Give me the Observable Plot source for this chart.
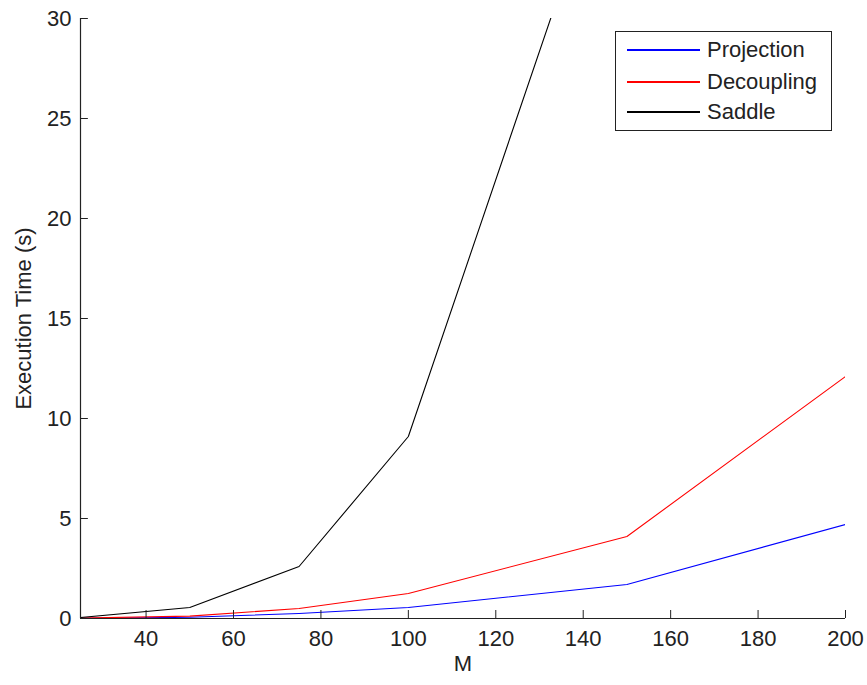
<!DOCTYPE html>
<html>
<head>
<meta charset="utf-8">
<script src="https://cdn.jsdelivr.net/npm/d3@7"></script>
<script src="https://cdn.jsdelivr.net/npm/@observablehq/plot@0.6"></script>
<style>
  html, body { margin: 0; padding: 0; background: #fff; }
  #wrap { position: relative; width: 867px; height: 685px; font-family: "Liberation Sans", Arial, Helvetica, sans-serif; }
  #legend { position: absolute; left: 615px; top: 31px; width: 215px; height: 98px; border: 1px solid #222; background: #fff; box-sizing: content-box; }
  #legend .row { position: absolute; left: 0; height: 30px; display: flex; align-items: center; }
  #legend .sw { width: 73px; height: 1.5px; margin-left: 11px; margin-right: 7px; }
  #legend .lab { font-size: 22px; color: #222; line-height: 22px; }
</style>
</head>
<body>
<div id="wrap"></div>
<script>
const M = [25, 50, 75, 100, 150, 200];
const projection = [0.01, 0.06, 0.25, 0.55, 1.7, 4.7];
const decoupling = [0.02, 0.12, 0.5, 1.25, 4.1, 12.1];
const saddle = [0.05, 0.55, 2.6, 9.1, 41.2, null];

const seriesNames = ["Projection", "Decoupling", "Saddle"];
const seriesColors = ["#0000ff", "#ff0000", "#000000"];
const seriesValues = [projection, decoupling, saddle];

const xTicks = [40, 60, 80, 100, 120, 140, 160, 180, 200];
const yTicks = [0, 5, 10, 15, 20, 25, 30];

const rows = [];
seriesNames.forEach((name, i) => {
  M.forEach((m, j) => rows.push({series: name, M: m, t: seriesValues[i][j]}));
});

const axisColor = "#222";
const font = "Liberation Sans, Arial, Helvetica, sans-serif";

const chart = Plot.plot({
  width: 867,
  height: 685,
  marginLeft: 80,
  marginRight: 22,
  marginTop: 18,
  marginBottom: 67,
  style: {fontFamily: font, fontSize: "22px", color: axisColor, background: "#fff"},
  x: {domain: [25, 200]},
  y: {domain: [0, 30]},
  color: {domain: seriesNames, range: seriesColors},
  marks: [
    Plot.line(rows, {x: "M", y: "t", z: "series", stroke: "series", strokeWidth: 1.1, clip: true}),
    Plot.ruleX(xTicks, {x: d => d, y1: 0, y2: 0.4, stroke: axisColor}),
    Plot.ruleY(yTicks, {y: d => d, x1: 25, x2: 26.8, stroke: axisColor}),
    Plot.ruleY([0], {stroke: axisColor, strokeWidth: 1.2}),
    Plot.ruleX([25], {stroke: axisColor, strokeWidth: 1.2}),
    Plot.axisX(xTicks, {tickSize: 0, tickPadding: 20, lineAnchor: "middle", label: null, fill: axisColor}),
    Plot.axisY(yTicks, {tickSize: 0, tickPadding: 9, label: null, fill: axisColor}),
    Plot.text(["M"], {frameAnchor: "bottom", dy: 45, lineAnchor: "middle", fill: axisColor}),
    Plot.text(["Execution Time (s)"], {frameAnchor: "left", dx: -57, rotate: -90, lineAnchor: "middle", textAnchor: "middle", fill: axisColor})
  ]
});

const wrap = document.getElementById("wrap");
wrap.appendChild(chart);

const legend = document.createElement("div");
legend.id = "legend";
const rowTops = [3, 35, 65];
seriesNames.forEach((name, i) => {
  const r = document.createElement("div");
  r.className = "row";
  r.style.top = rowTops[i] + "px";
  const sw = document.createElement("div");
  sw.className = "sw";
  sw.style.background = seriesColors[i];
  const lab = document.createElement("span");
  lab.className = "lab";
  lab.textContent = name;
  r.appendChild(sw);
  r.appendChild(lab);
  legend.appendChild(r);
});
wrap.appendChild(legend);
</script>
</body>
</html>
